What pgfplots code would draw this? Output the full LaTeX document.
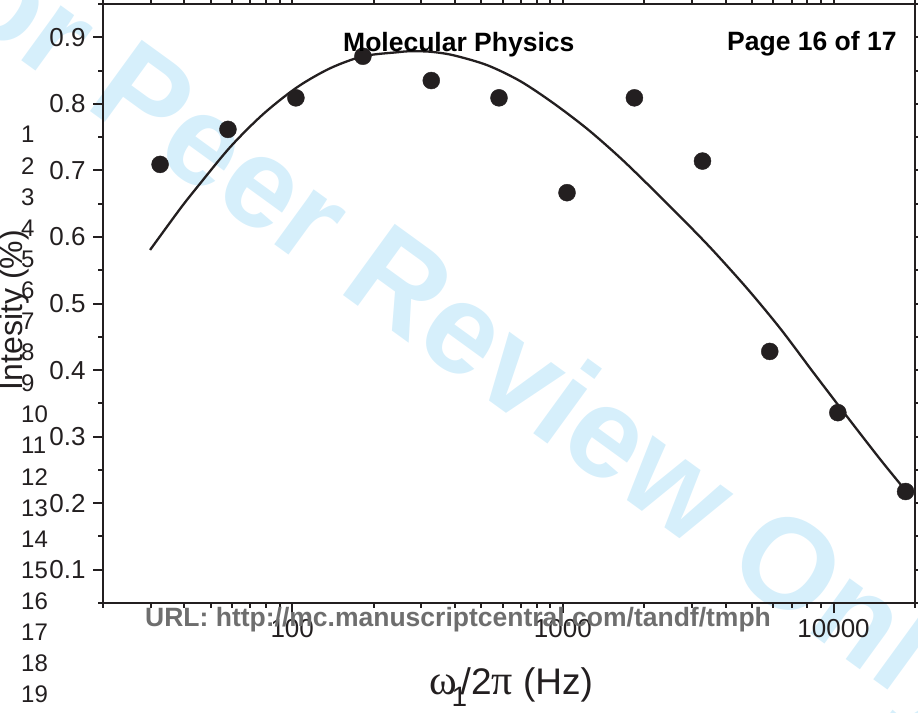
\documentclass[border=0pt]{standalone}
\usepackage{fontspec}
\setmainfont{Liberation Sans}
\newfontfamily\greekserif{Liberation Serif}
\usepackage{pgfplots}
\pgfplotsset{compat=1.18}
\definecolor{wm}{RGB}{214,239,251}
\definecolor{ink}{RGB}{35,31,32}
\definecolor{urlgray}{RGB}{110,110,110}

\pgfplotstableread{
x y
32.5 0.709
57.9 0.7616
103.2 0.809
182.5 0.8715
326.5 0.835
580.8 0.809
1036 0.6665
1838 0.809
3279 0.714
5813 0.428
10373 0.336
18460 0.2175
}\pointdata

\pgfplotstableread{
x y
29.85 0.5805
38.5 0.642
44.6 0.675
59.0 0.735
78.1 0.7845
104.3 0.825
138.2 0.8535
183 0.8715
244.4 0.8775
273 0.879
323.6 0.8783
393.9 0.873
526 0.858
696.6 0.834
922.6 0.801
1233 0.762
1633 0.7185
2162 0.6705
2886 0.6195
3599 0.579
4808 0.522
6368 0.462
8435 0.396
11270 0.329
14930 0.265
18460 0.219
}\fitdata

\begin{document}
\begin{tikzpicture}[x=1pt,y=1pt]
\useasboundingbox (0,0) rectangle (918,712);
% watermark
\node[rotate=-36, text=wm, font=\fontsize{128}{128}\selectfont\bfseries, inner sep=0pt] at (440,388) {For Peer Review Only};
\begin{axis}[
  at={(103pt,109pt)}, anchor=south west,
  scale only axis, width=812pt, height=599pt,
  xmode=log, xmin=20, xmax=20000, ymin=0.05, ymax=0.95,
  axis line style={line width=2.5pt, ink},
  tick align=outside,
  major tick length=10pt, minor tick length=5pt,
  every tick/.style={line width=2pt, ink},
  xtick={100,1000,10000}, xticklabels={100,1000,10000},
  minor xtick={20,30,40,50,60,70,80,90,200,300,400,500,600,700,800,900,2000,3000,4000,5000,6000,7000,8000,9000,20000},
  ytick={0.1,0.2,0.3,0.4,0.5,0.6,0.7,0.8,0.9},
  yticklabels={0.1,0.2,0.3,0.4,0.5,0.6,0.7,0.8,0.9},
  minor ytick={0.05,0.15,0.25,0.35,0.45,0.55,0.65,0.75,0.85,0.95},
  tick label style={font=\fontsize{26}{26}\selectfont, text=ink},
  xticklabel style={yshift=-3pt},
  yticklabel style={xshift=-4pt},
]
\addplot[line width=2.3pt, ink, smooth, no marks] table {\fitdata};
\addplot[only marks, mark=*, mark size=8.5pt, ink] table {\pointdata};
\end{axis}
% header texts
\node[anchor=base west, inner sep=0pt, font=\fontsize{26.5}{26.5}\selectfont\bfseries] at (343,660) {Molecular Physics};
\node[anchor=base west, inner sep=0pt, font=\fontsize{26.5}{26.5}\selectfont\bfseries] at (727,661) {Page 16 of 17};
\node[anchor=base west, inner sep=0pt, text=urlgray, font=\fontsize{26.5}{26.5}\selectfont\bfseries] at (145,85) {URL: http://mc.manuscriptcentral.com/tandf/tmph};
% line numbers
\foreach \n in {1,...,19} {
  \node[anchor=base west, inner sep=0pt, font=\fontsize{24}{24}\selectfont, text=ink] at (21, {712-143-(\n-1)*31.1}) {\n};
}
% axis labels
\node[rotate=90, anchor=center, inner sep=0pt, font=\fontsize{32}{32}\selectfont, text=ink] at (14,402) {Intesity (\%)};
\node[anchor=base, inner sep=0pt, font=\fontsize{37}{37}\selectfont, text=ink] at (511,17) {{\greekserif\fontsize{42}{42}\selectfont ω}\kern-5pt\raisebox{-12pt}{\makebox[9pt][l]{\fontsize{28}{28}\selectfont 1}}/2{\greekserif\fontsize{42}{42}\selectfont π} (Hz)};
\end{tikzpicture}
\end{document}
